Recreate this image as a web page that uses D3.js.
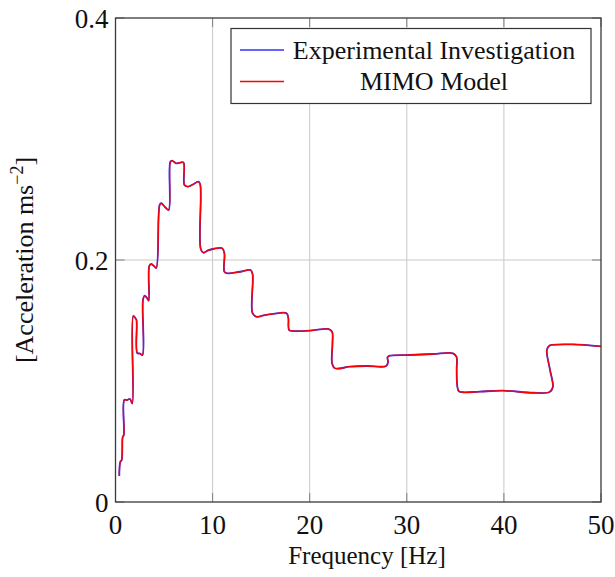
<!DOCTYPE html>
<html>
<head>
<meta charset="utf-8">
<script src="https://cdn.jsdelivr.net/npm/d3@7"></script>
<style>
  body { margin: 0; background: #fff; }
  text { font-family: "Liberation Serif", "Times New Roman", serif; fill: #111; }
</style>
</head>
<body>
<div id="chart"></div>
<script>
let width_chart = 615;
let height_chart = 577;

// frequency [Hz] (the plot is a smooth parametric line)
const freq = [0.391, 0.494, 0.638, 0.741, 0.854, 0.905, 1.183, 1.492, 1.728, 1.831,
  2.037, 2.160, 2.243, 2.521, 2.778, 2.829, 3.004, 3.241, 3.416, 3.477,
  3.683, 3.961, 4.198, 4.547, 4.712, 5.093, 5.473, 5.638, 5.813, 6.276,
  6.533, 6.996, 7.099, 7.459, 7.973, 8.539, 8.724, 8.776, 9.053, 9.516,
  10.134, 10.988, 11.214, 11.214, 11.523, 12.809, 13.909, 14.115, 14.115, 14.527,
  15.381, 16.235, 17.613, 17.798, 17.881, 18.292, 20.011, 21.039, 21.893, 22.305,
  22.346, 22.305, 22.582, 24.126, 25.844, 27.881, 28.066, 28.014, 28.241, 30.298,
  32.695, 34.753, 35.113, 35.134, 35.185, 35.340, 35.782, 37.500, 39.897, 42.984,
  44.702, 45.041, 44.753, 44.424, 44.702, 44.907, 47.099, 50.0];

// acceleration, experimental investigation
const accelExp = [0.0215, 0.0331, 0.0347, 0.0537, 0.0554, 0.0843, 0.0843, 0.0851, 0.0814, 0.1537,
  0.1521, 0.1504, 0.1231, 0.1227, 0.1215, 0.1669, 0.1705, 0.1686, 0.1664, 0.1950,
  0.1967, 0.1950, 0.1934, 0.2455, 0.2469, 0.2438, 0.2413, 0.2810, 0.2821, 0.2798,
  0.2802, 0.2806, 0.2620, 0.2606, 0.2624, 0.2647, 0.2624, 0.2091, 0.2060, 0.2079,
  0.2093, 0.2097, 0.2055, 0.1903, 0.1890, 0.1903, 0.1917, 0.1884, 0.1560, 0.1531,
  0.1545, 0.1554, 0.1560, 0.1521, 0.1421, 0.1413, 0.1417, 0.1426, 0.1430, 0.1407,
  0.1314, 0.1146, 0.1105, 0.1118, 0.1124, 0.1124, 0.1157, 0.1196, 0.1209, 0.1215,
  0.1223, 0.1229, 0.1201, 0.1091, 0.0967, 0.0917, 0.0907, 0.0912, 0.0920, 0.0903,
  0.0909, 0.0950, 0.1091, 0.1256, 0.1293, 0.1298, 0.1302, 0.1286];

// acceleration, MIMO model (lies on top of the measurement)
const accelModel = accelExp.slice();

const xTicks = [0, 10, 20, 30, 40, 50];
const yTicks = [0, 0.2, 0.4];
const seriesNames = ["Experimental Investigation", "MIMO Model"];
const seriesColors = ["#3030ff", "#ff0000"];

const margin = {left: 115.5, right: 14, top: 18, bottom: 75};

let svg = d3.select('#chart').append('svg')
    .attr('width', width_chart)
    .attr('height', height_chart);

var x = d3.scaleLinear().domain([0, 50]).range([margin.left, width_chart - margin.right]);
var y = d3.scaleLinear().domain([0, 0.4]).range([height_chart - margin.bottom, margin.top]);

// grid
svg.append("g").selectAll("line")
    .data(xTicks.slice(1, -1))
    .enter().append("line")
    .attr("x1", d => x(d)).attr("x2", d => x(d))
    .attr("y1", y(0)).attr("y2", y(0.4))
    .attr("stroke", "#c8c8c8").attr("stroke-width", 1);
svg.append("g").selectAll("line")
    .data(yTicks.slice(1, -1))
    .enter().append("line")
    .attr("x1", x(0)).attr("x2", x(50))
    .attr("y1", d => y(d)).attr("y2", d => y(d))
    .attr("stroke", "#c8c8c8").attr("stroke-width", 1);

// tick marks on the inside, all four sides
var tk = svg.append("g").attr("stroke", "#808080").attr("stroke-width", 1);
xTicks.forEach(function(d) {
  tk.append("line").attr("x1", x(d)).attr("x2", x(d)).attr("y1", y(0)).attr("y2", y(0) - 9);
  tk.append("line").attr("x1", x(d)).attr("x2", x(d)).attr("y1", y(0.4)).attr("y2", y(0.4) + 9);
});
yTicks.forEach(function(d) {
  tk.append("line").attr("x1", x(0)).attr("x2", x(0) + 9).attr("y1", y(d)).attr("y2", y(d));
  tk.append("line").attr("x1", x(50)).attr("x2", x(50) - 9).attr("y1", y(d)).attr("y2", y(d));
});

// curves
var line = d3.line()
    .x(function(d) { return x(d[0]); })
    .y(function(d) { return y(d[1]); })
    .curve(d3.curveCatmullRom.alpha(0.5));

svg.append("path")
    .datum(freq.map((f, i) => [f, accelExp[i]]))
    .attr("fill", "none")
    .attr("stroke", seriesColors[0])
    .attr("stroke-width", 1.8)
    .attr("d", line);
svg.append("path")
    .datum(freq.map((f, i) => [f, accelModel[i]]))
    .attr("fill", "none")
    .attr("stroke", seriesColors[1])
    .attr("stroke-width", 1.3)
    .attr("d", line);

// frame
svg.append("rect")
    .attr("x", x(0)).attr("y", y(0.4))
    .attr("width", x(50) - x(0)).attr("height", y(0) - y(0.4))
    .attr("fill", "none").attr("stroke", "#3a3a3a").attr("stroke-width", 1.3);

// tick labels
svg.append("g").selectAll("text")
    .data(xTicks)
    .enter().append("text")
    .attr("x", d => x(d)).attr("y", y(0) + 32)
    .attr("text-anchor", "middle")
    .style("font-size", "27px")
    .text(d => d);
svg.append("g").selectAll("text")
    .data(yTicks)
    .enter().append("text")
    .attr("x", x(0) - 7).attr("y", d => y(d) + 10)
    .attr("text-anchor", "end")
    .style("font-size", "27px")
    .text(d => d);

// axis titles
svg.append("text")
    .attr("x", 367).attr("y", 564)
    .attr("text-anchor", "middle")
    .style("font-size", "25px")
    .text("Frequency [Hz]");

var yl = svg.append("text")
    .attr("transform", "translate(33,260) rotate(-90)")
    .attr("text-anchor", "middle")
    .style("font-size", "26px");
yl.append("tspan").text("[Acceleration ms");
yl.append("tspan").attr("dy", -10).style("font-size", "18px").text("\u22122");
yl.append("tspan").attr("dy", 10).text("]");

// legend
var lg = svg.append("g");
lg.append("rect")
    .attr("x", 231).attr("y", 28.5).attr("width", 360).attr("height", 75)
    .attr("fill", "#fff").attr("stroke", "#333").attr("stroke-width", 1.2);
seriesNames.forEach(function(name, i) {
  var cy = 50 + i * 31.5;
  lg.append("line")
      .attr("x1", 240).attr("x2", 284).attr("y1", cy).attr("y2", cy)
      .attr("stroke", seriesColors[i]).attr("stroke-width", 1.3);
  lg.append("text")
      .attr("x", 434).attr("y", cy + 8.5)
      .attr("text-anchor", "middle")
      .style("font-size", "26px")
      .text(name);
});
</script>
</body>
</html>
